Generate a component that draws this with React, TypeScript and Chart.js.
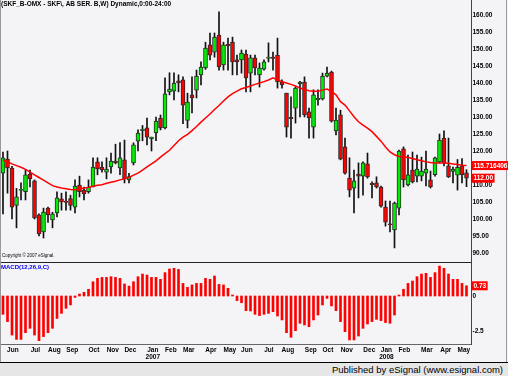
import React, { useEffect, useRef } from 'react';
import { Chart, registerables } from 'chart.js';

Chart.register(...registerables);

const TITLE = '(SKF_B-OMX - SKF\\, AB SER. B,W) Dynamic,0:00-24:00';
const COPYRIGHT = 'Copyright \u00A9 2007 eSignal.';
const MACD_LABEL = 'MACD(12,26,9,C)';
const FOOTER = 'Published by eSignal (www.esignal.com)';

// Weekly candles, Jun 2006 - May 2008
const opens = [
  113.5, 117.6, 115, 104, 108.4, 108, 113.2, 111.2, 101.2, 96.2,
  103.2, 99.7, 101.8, 105.9, 105.3, 106, 103.5, 110, 108.5, 108,
  109.4, 116.8, 115.3, 113.8, 115.3, 117, 115, 117.4, 111.5, 116.5,
  122.9, 126, 126.8, 123.6, 125.3, 129.7, 126.8, 137.4, 137.6, 140.6,
  140.9, 129, 136.5, 137.9, 142.4, 144.4, 151.2, 149.1, 154.1, 145.3,
  151.4, 152, 146.8, 146.8, 148.5, 142.9, 147.4, 142.4, 144.1, 147.2,
  147.6, 148.2, 140.3, 137, 129.9, 132.6, 139.7, 140.3, 131.5, 127,
  135.1, 135.3, 142, 143.2, 125.9, 130.6, 121.2, 112, 109.1, 113.2,
  112.6, 116.2, 110.5, 110.6, 109.4, 103.5, 98.6, 96.8, 103.2, 120.6,
  110, 114.4, 112.6, 112.6, 113.5, 111.5, 113, 116.8, 123.8, 115.6,
  114, 112.9, 115.6, 113.6
];
const highs = [
  119.7, 120, 115.5, 109, 110.6, 114.4, 114.4, 111.5, 101.5, 103.2,
  103.5, 102, 108, 107.6, 108, 107, 111.5, 112.6, 109.4, 111.5,
  118, 118, 116.8, 118, 119.4, 122, 122.5, 123.2, 113.4, 122.4,
  126.2, 127.5, 129.7, 124.1, 130, 130.6, 141.5, 143, 143, 142.4,
  141.8, 137, 141.8, 143.8, 146.2, 152, 154.7, 154.7, 160.9, 152,
  153.2, 153.5, 148.2, 149.7, 149.7, 148.2, 148.2, 145.9, 146.8, 151.8,
  149.1, 153.2, 140.9, 137, 135.9, 138.8, 140.5, 141.8, 132.6, 138,
  138, 142.9, 144.7, 143.5, 132.6, 132, 123.8, 118, 114.4, 116.5,
  116.8, 119.4, 110.9, 112.4, 109.7, 105.3, 105.3, 105, 120.3, 121.2,
  118.8, 119.7, 118.8, 118.2, 120, 114.1, 118.2, 125, 125.9, 123.8,
  115.3, 117.5, 117.8, 114.5
];
const lows = [
  101.5, 107.6, 100, 97.4, 105.6, 105.6, 109.4, 100, 95, 94.4,
  99, 97.4, 100.6, 102.6, 102.6, 102.6, 101.8, 106.5, 105.6, 107.6,
  109.4, 113, 113.8, 111.8, 113.5, 116.2, 113, 110.6, 110.6, 115.9,
  120, 123, 121.8, 120, 123, 126.2, 126.5, 136.5, 135, 137.4,
  128, 126.8, 131.2, 135.6, 139.4, 144, 146.8, 147.6, 143.8, 143.8,
  143.8, 142.4, 142.4, 142.9, 137.4, 137.4, 142.4, 138.8, 143.8, 146.2,
  143.8, 138.5, 138.5, 124.1, 123.8, 128.2, 130, 130, 123.8, 123.8,
  133.5, 135, 141.8, 128.5, 124.7, 117.4, 113.2, 106.5, 101.8, 106.2,
  107, 112, 106.2, 109.1, 103.5, 97.9, 96.2, 91.5, 101.2, 109.4,
  109.7, 110.6, 110.9, 111.2, 109.7, 109.1, 112.6, 116.5, 115.6, 112.2,
  110.6, 108.5, 110.6, 109.5
];
const closes = [
  118, 115, 103.5, 106.5, 108.7, 113, 111.8, 100.3, 95.6, 102,
  101.2, 101.5, 106.2, 105, 104.9, 104, 109.7, 108, 107.4, 109.4,
  115.3, 114.7, 114.4, 114.7, 117, 116.5, 118, 111.8, 112.5, 121.8,
  125.3, 126.4, 124.1, 124.1, 128.8, 126.8, 136.8, 138.2, 140, 140,
  133.5, 134.4, 135.6, 142, 144.7, 150.3, 148.2, 153.5, 144.7, 151.2,
  150.9, 146.2, 146.2, 148.8, 141.5, 147.4, 144.4, 144.4, 146.2, 147.6,
  147.2, 140.3, 139.4, 127, 129.5, 138.5, 140.3, 130.6, 129.7, 136.5,
  135.5, 142, 142.9, 128.8, 129.1, 117.6, 113.5, 108.5, 111.2, 112.6,
  116.5, 112.4, 110.1, 109.4, 103.8, 99.1, 98.3, 104.7, 120, 111.5,
  113, 110.9, 114.7, 114.1, 114.7, 109.4, 118, 123.2, 116.5, 112.4,
  114.7, 115.2, 113, 112
];
// Moving average (red line)
const maValues = [
  117.35, 116.8, 116.2, 115.7, 115.2, 114.6, 113.8, 113.0, 112.2, 111.4,
  110.6, 109.8, 109.4, 109.1, 108.9, 108.7, 108.6, 108.8, 109.1, 109.3,
  109.6, 109.9, 110.1, 110.5, 110.8, 111.1, 111.5, 111.8, 112.2, 112.9,
  113.5, 114.4, 115.3, 116.2, 117.1, 118.2, 119.2, 120.2, 121.6, 123.0,
  124.1, 124.9, 126.0, 127.2, 128.5, 129.7, 130.9, 132.2, 133.4, 134.7,
  135.9, 136.9, 137.6, 138.3, 138.7, 139.1, 139.6, 140.0, 140.4, 140.9,
  141.5, 140.9, 140.4, 140.0, 139.6, 139.1, 138.5, 138.1, 137.7, 137.6,
  137.6, 137.9, 138.2, 137.5, 136.5, 134.5, 133.5, 131.8, 130.1, 128.6,
  127.6, 126.7, 125.7, 124.3, 122.9, 121.2, 119.7, 118.9, 118.4, 118.3,
  118.1, 117.8, 117.4, 117.1, 116.8, 116.6, 116.5, 116.5, 116.5, 116.4,
  116.2, 116.0, 115.8, 115.716406
];
// MACD(12,26,9) histogram
const macdValues = [
  -1.31, -1.83, -2.79, -3.1, -3.1, -2.62, -2.31, -2.79, -3.19, -2.9,
  -2.62, -2.31, -1.6, -1.24, -0.88, -0.64, -0.1, 0.14, 0.26, 0.48,
  1.02, 1.26, 1.33, 1.33, 1.38, 1.33, 1.26, 0.86, 0.71, 1.02,
  1.38, 1.57, 1.5, 1.33, 1.33, 1.19, 1.67, 1.93, 1.98, 1.9,
  0.9, 0.62, 0.79, 0.9, 0.9, 1.26, 1.19, 1.43, 0.83, 0.79,
  0.55, 0.07, -0.33, -0.48, -1.05, -1.07, -1.31, -1.4, -1.31, -1.24,
  -1.12, -1.43, -1.71, -2.62, -2.95, -2.48, -1.95, -2.07, -2.19, -1.71,
  -1.36, -0.64, -0.17, -0.71, -1.05, -1.83, -2.55, -3.14, -3.14, -2.86,
  -2.31, -2.0, -1.83, -1.67, -1.76, -1.9, -1.95, -1.36, 0.07, 0.48,
  0.9, 1.07, 1.38, 1.57, 1.62, 1.33, 1.67, 2.14, 1.98, 1.57,
  1.19, 1.19, 0.9, 0.73
];

const monthTickIdx = [2.2, 7.2, 11.4, 15.4, 20.2, 24.4, 28.3, 33.3, 37.3, 41.3, 46.2, 50.4,
  54.2, 59.1, 63.3, 68.4, 72.2, 76.4, 81.4, 85.2, 89.2, 94.2, 98.4, 102.4];
const monthLabels: (string | string[])[] = ['Jun', 'Jul', 'Aug', 'Sep', 'Oct', 'Nov', 'Dec', ['Jan', '2007'],
  'Feb', 'Mar', 'Apr', 'May', 'Jun', 'Jul', 'Aug', 'Sep', 'Oct', 'Nov', 'Dec', ['Jan', '2008'],
  'Feb', 'Mar', 'Apr', 'May'];
const priceTicks = [90, 95, 100, 105, 110, 115, 120, 125, 130, 135, 140, 145, 150, 155, 160];
const macdTicks = [0, -2.5];

const FONT = '"Liberation Sans", Arial, sans-serif';
const BG = '#f4f3f6';

export default function App() {
  const ref = useRef<HTMLCanvasElement>(null);

  useEffect(() => {
    if (!ref.current) return;
    const idx = opens.map((_, i) => i);
    const last = idx.length - 1;
    const tickFont = { family: FONT, size: 6.5, weight: 'bold' as const, lineHeight: 1.15 };

    const overlay = {
      id: 'overlay',
      beforeDraw(chart: any) {
        const { ctx, width, height } = chart;
        ctx.save();
        ctx.fillStyle = BG;
        ctx.fillRect(0, 0, width, height);
        ctx.restore();
      },
      afterDraw(chart: any) {
        const { ctx, chartArea, width, height } = chart;
        const ys = chart.scales.y;
        const ms = chart.scales.m;
        ctx.save();
        // pane separator
        ctx.strokeStyle = '#222';
        ctx.lineWidth = 1;
        const sy = Math.round(ys.bottom) + 0.5;
        ctx.beginPath();
        ctx.moveTo(0, sy);
        ctx.lineTo(chartArea.right, sy);
        ctx.stroke();
        // outer frame sides
        ctx.strokeStyle = '#9a9a9a';
        ctx.beginPath();
        ctx.moveTo(0.5, 0);
        ctx.lineTo(0.5, height);
        ctx.moveTo(width - 1.5, 0);
        ctx.lineTo(width - 1.5, height);
        ctx.stroke();
        // texts
        ctx.textBaseline = 'top';
        ctx.textAlign = 'left';
        ctx.fillStyle = '#000';
        ctx.font = `bold 6.5px ${FONT}`;
        ctx.fillText(TITLE, 1, 1);
        ctx.font = `4.5px ${FONT}`;
        ctx.fillText(COPYRIGHT, 2, ys.bottom - 8);
        ctx.fillStyle = '#0000ee';
        ctx.font = `bold 6px ${FONT}`;
        ctx.fillText(MACD_LABEL, 1, ms.top + 2);
        // value tags
        const tag = (y: number, text: string) => {
          ctx.font = `bold 6.5px ${FONT}`;
          const w = ctx.measureText(text).width + 3;
          ctx.fillStyle = '#ff0000';
          ctx.fillRect(chartArea.right + 1, y - 4.5, w, 9);
          ctx.fillStyle = '#ffffff';
          ctx.textBaseline = 'middle';
          ctx.fillText(text, chartArea.right + 2.5, y + 0.5);
        };
        tag(ys.getPixelForValue(maValues[last]), String(maValues[last]));
        tag(ys.getPixelForValue(closes[last]), closes[last].toFixed(2));
        tag(ms.getPixelForValue(macdValues[last]), macdValues[last].toFixed(2));
        ctx.restore();
      },
    };

    const chart = new Chart(ref.current, {
      type: 'bar',
      data: {
        datasets: [
          {
            type: 'line',
            data: idx.map((i) => ({ x: i, y: maValues[i] })),
            borderColor: '#ff0000',
            borderWidth: 1.5,
            pointRadius: 0,
            tension: 0,
            yAxisID: 'y',
            order: 0,
          } as any,
          {
            type: 'bar',
            data: idx.map((i) => ({ x: i, y: [opens[i], closes[i]] })),
            backgroundColor: idx.map((i) => (closes[i] >= opens[i] ? '#00ee00' : '#ff0000')),
            borderColor: '#2a2a2a',
            borderWidth: 1,
            borderSkipped: false,
            barThickness: 4,
            grouped: false,
            yAxisID: 'y',
            order: 1,
          } as any,
          {
            type: 'bar',
            data: idx.map((i) => ({ x: i, y: [lows[i], highs[i]] })),
            backgroundColor: '#111111',
            barThickness: 1,
            grouped: false,
            yAxisID: 'y',
            order: 2,
          } as any,
          {
            type: 'bar',
            data: idx.map((i) => ({ x: i, y: macdValues[i] })),
            backgroundColor: '#ff0000',
            barThickness: 2,
            grouped: false,
            yAxisID: 'm',
            order: 3,
          } as any,
        ],
      },
      options: {
        animation: false,
        responsive: false,
        devicePixelRatio: 1,
        layout: { padding: { left: 1, right: 0, top: 0, bottom: 0 } },
        plugins: {
          legend: { display: false },
          tooltip: { enabled: false },
          title: { display: false },
        },
        scales: {
          x: {
            type: 'linear',
            position: 'bottom',
            min: -0.444,
            max: 104,
            offset: false,
            grid: { display: false, drawTicks: false },
            border: { display: true, color: '#666' },
            ticks: {
              autoSkip: false,
              maxRotation: 0,
              minRotation: 0,
              padding: 2,
              color: '#000',
              font: tickFont,
              callback: (_v: any, i: number) => monthLabels[i],
            },
            afterBuildTicks: (s: any) => {
              s.ticks = monthTickIdx.map((v) => ({ value: v }));
            },
            afterFit: (s: any) => {
              s.height = 18;
              s.paddingLeft = 0;
              s.paddingRight = 0;
            },
          },
          y: {
            type: 'linear',
            position: 'right',
            stack: 'panes',
            stackWeight: 262,
            min: 87.35,
            max: 164.41,
            grid: { display: false, drawTicks: false },
            border: { display: true, color: '#444' },
            ticks: {
              autoSkip: false,
              padding: 1.5,
              color: '#000',
              font: tickFont,
              callback: (v: any) => Number(v).toFixed(2),
            },
            afterBuildTicks: (s: any) => {
              s.ticks = priceTicks.map((v) => ({ value: v }));
            },
            afterFit: (s: any) => {
              s.width = 37;
              s.paddingTop = 0;
              s.paddingBottom = 0;
            },
          },
          m: {
            type: 'linear',
            position: 'right',
            stack: 'panes',
            stackWeight: 82,
            min: -3.43,
            max: 2.43,
            grid: { display: false, drawTicks: false },
            border: { display: true, color: '#444' },
            ticks: {
              autoSkip: false,
              padding: 1.5,
              color: '#000',
              font: tickFont,
              callback: (v: any) => (Number(v) === 0 ? '0' : String(v)),
            },
            afterBuildTicks: (s: any) => {
              s.ticks = macdTicks.map((v) => ({ value: v }));
            },
            afterFit: (s: any) => {
              s.width = 37;
              s.paddingTop = 0;
              s.paddingBottom = 0;
            },
          },
        },
      } as any,
      plugins: [overlay],
    });
    return () => chart.destroy();
  }, []);

  return (
    <div style={{ position: 'fixed', left: 0, top: 0, width: 508, height: 376, background: BG, overflow: 'hidden' }}>
      <canvas ref={ref} width={508} height={362} style={{ display: 'block', width: 508, height: 362 }} />
      <div
        style={{
          position: 'absolute',
          left: 0,
          top: 362,
          width: 508,
          height: 14,
          boxSizing: 'border-box',
          borderTop: '1px solid #000',
          background: '#e6e6e6',
          fontFamily: FONT,
          fontSize: 9.5,
          lineHeight: '13px',
          textAlign: 'right',
          paddingRight: 5,
          color: '#000',
        }}
      >
        {FOOTER}
      </div>
    </div>
  );
}
